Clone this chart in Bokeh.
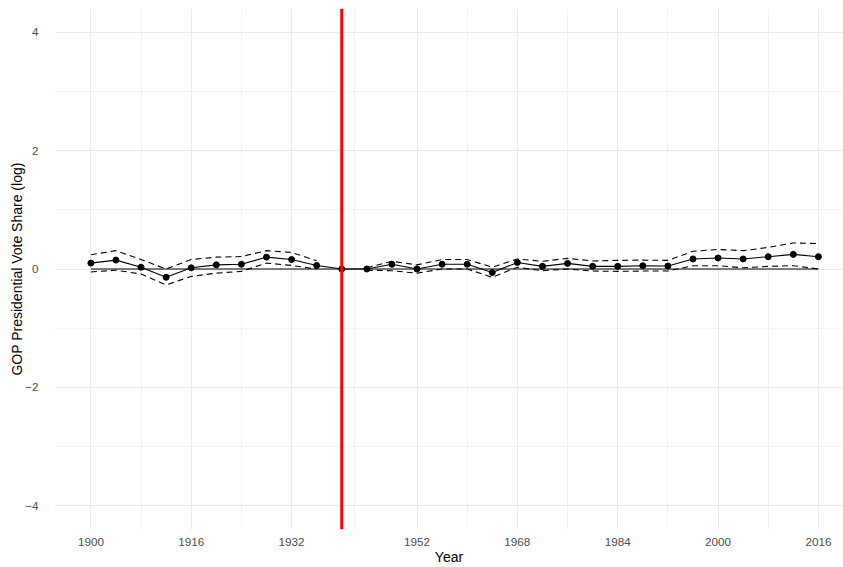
from bokeh.plotting import figure
from bokeh.models import Range1d, FixedTicker, Span, ColumnDataSource
from bokeh.embed import file_html
from bokeh.resources import INLINE

# Election years and estimated GOP vote-share effect (log scale)
years = list(range(1900, 2017, 4))
estimate = [0.10, 0.15, 0.03, -0.14, 0.02, 0.07, 0.08, 0.20, 0.16, 0.06,
            0.00, 0.00, 0.08, 0.00, 0.08, 0.08, -0.06, 0.11, 0.045, 0.095,
            0.045, 0.045, 0.056, 0.05, 0.17, 0.186, 0.17, 0.208, 0.247, 0.208]
upper = [0.24, 0.31, 0.16, 0.00, 0.16, 0.20, 0.21, 0.31, 0.28, 0.14,
         float("nan"), 0.02, 0.13, 0.07, 0.16, 0.16, 0.03, 0.17, 0.13, 0.18,
         0.135, 0.145, 0.15, 0.145, 0.30, 0.33, 0.31, 0.365, 0.44, 0.43]
lower = [-0.05, -0.02, -0.085, -0.27, -0.125, -0.07, -0.04, 0.10, 0.06, 0.00,
         float("nan"), -0.02, -0.03, -0.07, 0.00, 0.00, -0.14, 0.03, -0.03, 0.00,
         -0.035, -0.04, -0.035, -0.035, 0.056, 0.056, 0.02, 0.045, 0.056, 0.00]
baseline = [0.0] * len(years)
treatment_year = 1940

x_ticks = [1900, 1916, 1932, 1952, 1968, 1984, 2000, 2016]
x_minor = [1908, 1924, 1942, 1960, 1976, 1992, 2008]
y_ticks = [-4, -2, 0, 2, 4]
y_minor = [-3, -1, 1, 3]

src = ColumnDataSource(dict(year=years, est=estimate, up=upper, lo=lower, base=baseline))

p = figure(width=843, height=567, output_backend="svg", toolbar_location=None,
           x_range=Range1d(1894.2, 2020.0), y_range=Range1d(-4.4, 4.4),
           min_border_left=54, min_border_right=0, min_border_top=8, min_border_bottom=36)
p.outline_line_color = None
p.background_fill_color = "white"
p.border_fill_color = "white"

p.xaxis.ticker = FixedTicker(ticks=x_ticks, minor_ticks=x_minor)
p.yaxis.ticker = FixedTicker(ticks=y_ticks, minor_ticks=y_minor)
p.yaxis.major_label_overrides = {-4: "\u22124", -2: "\u22122"}

for ax in (p.xaxis, p.yaxis):
    ax.axis_line_color = None
    ax.major_tick_line_color = None
    ax.minor_tick_line_color = None
    ax.major_label_text_font = "Liberation Sans"
    ax.major_label_text_font_size = "11.7px"
    ax.major_label_text_color = "#4D4D4D"
    ax.axis_label_text_font = "Liberation Sans"
    ax.axis_label_text_font_size = "14px"
    ax.axis_label_text_font_style = "normal"
    ax.axis_label_text_color = "black"

p.xaxis.axis_label = "Year"
p.yaxis.axis_label = "GOP Presidential Vote Share (log)"
p.xaxis.major_label_standoff = 2
p.xaxis.axis_label_standoff = 0
p.yaxis.major_label_standoff = 10
p.yaxis.axis_label_standoff = -3

for g in (p.xgrid, p.ygrid):
    g.grid_line_color = "#EBEBEB"
    g.grid_line_width = 1.1
    g.minor_grid_line_color = "#EBEBEB"
    g.minor_grid_line_width = 0.6

p.line("year", "base", source=src, line_color="black", line_width=1.1)
p.line("year", "up", source=src, line_color="black", line_width=1.1, line_dash="6 4")
p.line("year", "lo", source=src, line_color="black", line_width=1.1, line_dash="6 4")
p.line("year", "est", source=src, line_color="black", line_width=1.1)
p.scatter("year", "est", source=src, size=6, color="black")

p.add_layout(Span(location=treatment_year, dimension="height",
                  line_color="#FF0000", line_width=3))

open("out.html", "w").write(file_html(p, INLINE))
